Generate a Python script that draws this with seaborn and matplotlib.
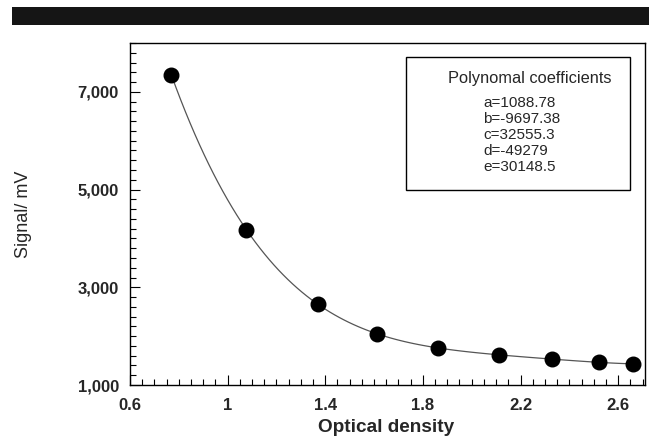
import matplotlib
matplotlib.use("Agg")
import matplotlib.pyplot as plt
import seaborn as sns
import numpy as np
import pandas as pd
from matplotlib.ticker import MultipleLocator, FuncFormatter
from matplotlib.patches import Rectangle

optical_density = [0.77, 1.076, 1.37, 1.61, 1.86, 2.11, 2.33, 2.52, 2.66]
signal_mv = [7340, 4180, 2660, 2050, 1760, 1615, 1530, 1470, 1430]
coef_title = "Polynomal coefficients"
coef_lines = ["a=1088.78", "b=-9697.38", "c=32555.3", "d=-49279", "e=30148.5"]
y_ticks = [1000, 3000, 5000, 7000]
x_ticks = [0.6, 1.0, 1.4, 1.8, 2.2, 2.6]

sns.set_theme(style="white")
plt.rcParams['font.family'] = ['Liberation Sans', 'DejaVu Sans']

df = pd.DataFrame({"od": optical_density, "sig": signal_mv})

fig = plt.figure(figsize=(6.49, 4.43), dpi=100)
ax = fig.add_axes([0.2003, 0.1309, 0.7935, 0.772])

sns.regplot(data=df, x="od", y="sig", order=4, ci=None, ax=ax,
            scatter_kws=dict(s=110, color="black", edgecolor="black", alpha=1, zorder=3),
            line_kws=dict(color="#555555", lw=0.9, zorder=2))

ax.set_xlim(0.6, 2.71)
ax.set_ylim(1000, 8000)
ax.set_xticks(x_ticks)
ax.set_yticks(y_ticks)
ax.xaxis.set_minor_locator(MultipleLocator(0.05))
ax.yaxis.set_minor_locator(MultipleLocator(200))
ax.xaxis.set_major_formatter(FuncFormatter(lambda v, p: f"{v:g}"))
ax.yaxis.set_major_formatter(FuncFormatter(lambda v, p: f"{int(v):,}"))
ax.tick_params(which="both", direction="in", color="black", width=0.8,
               bottom=True, left=True, top=False, right=False)
ax.tick_params(which="major", length=7, labelsize=12)
ax.tick_params(axis="y", which="major", pad=8)
ax.tick_params(axis="x", which="major", pad=9)
ax.tick_params(which="minor", length=4)
for lab in ax.get_xticklabels() + ax.get_yticklabels():
    lab.set_fontweight("bold")

ax.set_xlabel("Optical density", fontsize=13.7, fontweight="bold")
ax.xaxis.set_label_coords(0.497, -0.1)
ax.set_ylabel("Signal/ mV", fontsize=13)
ax.yaxis.set_label_coords(-0.19, 0.5)

for sp in ax.spines.values():
    sp.set_color("black")
    sp.set_linewidth(1.0)

# coefficient box
box = Rectangle((406 / 649, 1 - 190 / 443), (630 - 406) / 649, (190 - 57) / 443,
                transform=fig.transFigure, fill=False, edgecolor="black", lw=1.0)
fig.patches.append(box)
fig.text(530 / 649, 1 - 78 / 443, coef_title, ha="center", va="center", fontsize=11.8)
for i, line in enumerate(coef_lines):
    fig.text(483 / 649, 1 - (103 + i * 16) / 443, line, ha="left", va="center", fontsize=11)

# black bar at top
fig.patches.append(Rectangle((12 / 649, 1 - 25 / 443), 1 - 12 / 649, 18 / 443,
                             transform=fig.transFigure, color="#151515", lw=0))

fig.savefig("out.png", dpi=100)
